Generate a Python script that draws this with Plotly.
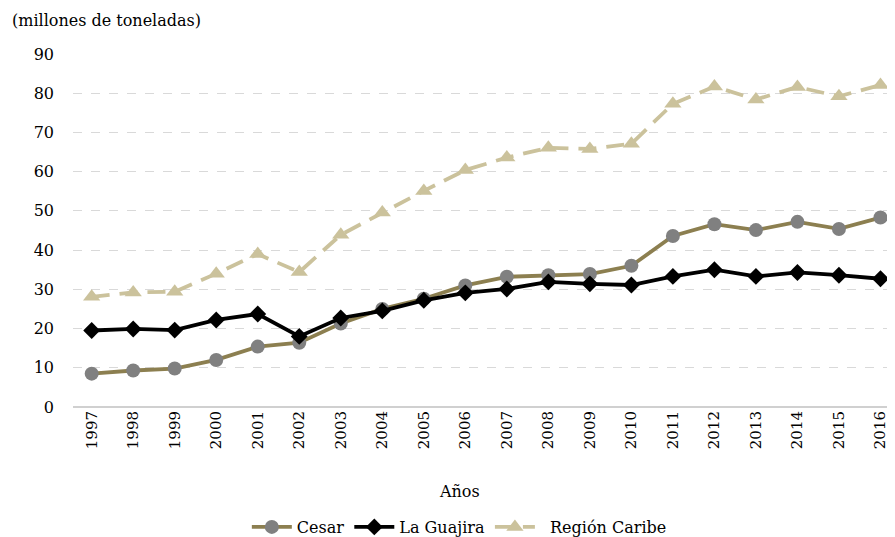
import plotly.graph_objects as go

years = list(range(1997, 2017))
cesar = [8.5, 9.3, 9.8, 12.0, 15.4, 16.4, 21.3, 25.0, 27.6, 31.0, 33.2, 33.6, 33.9, 36.0, 43.6, 46.6, 45.1, 47.2, 45.4, 48.3]
guajira = [19.5, 19.9, 19.6, 22.2, 23.7, 18.0, 22.7, 24.5, 27.2, 29.1, 30.1, 31.9, 31.4, 31.1, 33.3, 35.0, 33.3, 34.3, 33.6, 32.7]
caribe = [28.1, 29.2, 29.4, 34.0, 39.0, 34.4, 43.9, 49.6, 55.1, 60.4, 63.6, 66.1, 65.8, 67.1, 77.3, 81.7, 78.4, 81.6, 79.2, 82.1]
y_ticks = list(range(0, 100, 10))

font = "DejaVu Serif"

fig = go.Figure()
fig.add_trace(go.Scatter(x=years, y=cesar, name="Cesar", mode="lines+markers",
                         line=dict(color="#8c7f50", width=3.8),
                         marker=dict(symbol="circle", size=14, color="#808080")))
fig.add_trace(go.Scatter(x=years, y=guajira, name="La Guajira", mode="lines+markers",
                         line=dict(color="#000000", width=3.8),
                         marker=dict(symbol="diamond", size=13, color="#000000")))
fig.add_trace(go.Scatter(x=years, y=caribe, name="  Región Caribe", mode="lines+markers",
                         line=dict(color="#cbc29c", width=3.8, dash="18px,10px"),
                         marker=dict(symbol="triangle-up", size=15, color="#cbc29c")))

fig.update_layout(
    width=887, height=529,
    margin=dict(l=65, r=0, t=46, b=130, autoexpand=False),
    paper_bgcolor="white", plot_bgcolor="white",
    font=dict(family=font, size=16, color="#000000"),
    showlegend=True,
    legend=dict(orientation="h", x=0.47, xanchor="center", y=-0.34, yanchor="middle",
                font=dict(family=font, size=16), traceorder="normal", itemwidth=40),
    xaxis=dict(range=[1996.55, 2016.35], tickmode="array", tickvals=years,
               ticktext=[str(y) for y in years], tickangle=-90, automargin=False,
               showgrid=False, showline=False, ticks="",
               tickfont=dict(family=font, size=15)),
    yaxis=dict(range=[0, 90], tickvals=y_ticks, showgrid=True, automargin=False,
               gridcolor="#d9d9d9", griddash="dash", gridwidth=1,
               zeroline=True, zerolinecolor="#d0d0d0", zerolinewidth=1.5,
               ticks="", tickfont=dict(family=font, size=16), ticklabelstandoff=18),
    annotations=[dict(text="(millones de toneladas)", xref="paper", yref="paper",
                      x=-0.077, y=1.096, xanchor="left", yanchor="middle",
                      showarrow=False, font=dict(family=font, size=16)),
                 dict(text="Años", xref="paper", yref="paper",
                      x=0.47, y=-0.24, xanchor="center", yanchor="middle",
                      showarrow=False, font=dict(family=font, size=16))],
)

fig.write_html("out.html")
